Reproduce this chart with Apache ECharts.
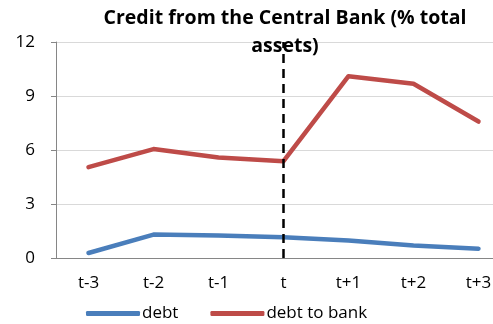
<!DOCTYPE html>
<html><head><meta charset="utf-8">
<script src="https://cdn.jsdelivr.net/npm/echarts@6/dist/echarts.min.js"></script>
<style>html,body{margin:0;padding:0;background:#fff}#c{width:493px;height:324px}</style>
</head><body><div id="c"></div>
<script>
var categories = ['t-3','t-2','t-1','t','t+1','t+2','t+3'];
var debt = [0.28, 1.3, 1.25, 1.15, 0.97, 0.7, 0.52];
var debtToBank = [5.05, 6.05, 5.58, 5.38, 10.1, 9.68, 7.58];
var yTicks = [0, 3, 6, 9, 12];
var markAt = 't';
var font = '"Open Sans", "Noto Sans", sans-serif';
var chart = echarts.init(document.getElementById('c'), null, {renderer:'canvas'});
chart.setOption({
  animation: false,
  title: {
    text: 'Credit from the Central Bank (% total\nassets)',
    left: 280, top: -1, textAlign: 'center',
    textStyle: {fontFamily: font, fontWeight: 'bold', fontSize: 19.5, color: '#000', lineHeight: 28}
  },
  grid: {left: 56, top: 42, width: 455, height: 216, containLabel: false, outerBoundsMode: 'none'},
  legend: {
    top: 300, left: 81, itemWidth: 54, itemHeight: 5, itemGap: 32, icon: 'roundRect',
    textStyle: {fontFamily: font, fontSize: 17, color: '#000', padding: [0,0,0,-3]},
    data: ['debt', 'debt to bank']
  },
  xAxis: {
    type: 'category', data: categories, boundaryGap: true,
    axisLine: {lineStyle: {color: '#868686', width: 1}},
    axisTick: {alignWithLabel: true, length: 5, lineStyle: {color: '#868686'}},
    axisLabel: {fontFamily: font, fontSize: 17, color: '#000', margin: 17}
  },
  yAxis: {
    type: 'value', min: yTicks[0], max: yTicks[yTicks.length-1], interval: 3,
    axisLine: {show: true, lineStyle: {color: '#868686', width: 1}},
    axisTick: {show: true, length: 5, lineStyle: {color: '#868686'}},
    axisLabel: {fontFamily: font, fontSize: 17, color: '#000', margin: 21},
    splitLine: {lineStyle: {color: '#d9d9d9', width: 1}}
  },
  series: [
    {name: 'debt', type: 'line', data: debt, symbol: 'none', color: '#4a7ebb',
     lineStyle: {width: 4.5, cap: 'round', join: 'round'}},
    {name: 'debt to bank', type: 'line', data: debtToBank, symbol: 'none', color: '#be4b48',
     lineStyle: {width: 4.5, cap: 'round', join: 'round'},
     markLine: {silent: true, symbol: 'none', label: {show: false},
       lineStyle: {color: '#000', type: [9, 6], width: 2.5},
       data: [{xAxis: markAt}]}}
  ]
});
</script></body></html>
